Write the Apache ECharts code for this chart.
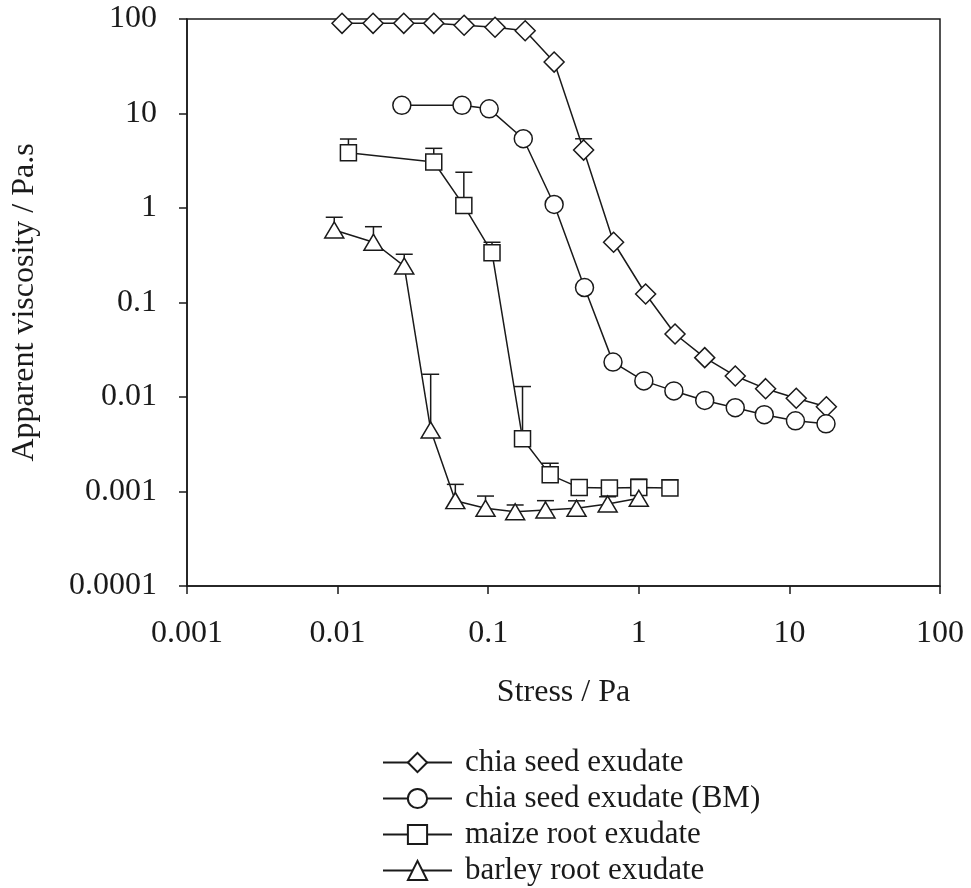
<!DOCTYPE html>
<html>
<head>
<meta charset="utf-8">
<script src="https://cdn.jsdelivr.net/npm/echarts@6/dist/echarts.min.js"></script>
<style>
  html, body { margin: 0; padding: 0; background: #fff; }
  #chart { width: 971px; height: 888px; }
</style>
</head>
<body>
<div id="chart"></div>
<script>
  'use strict'

  // chia seed exudate
  var chiaStress = [0.0107, 0.0172, 0.0275, 0.0435, 0.0692, 0.111, 0.176, 0.274, 0.43, 0.68, 1.11, 1.74, 2.74, 4.37, 6.95, 11.1, 17.6];
  var chiaVisc   = [90, 90, 90, 90, 85.8, 81.7, 75.2, 35, 4.1, 0.434, 0.123, 0.0464, 0.0261, 0.0167, 0.01225, 0.00969, 0.00789];
  var chiaErr    = [null, null, null, null, null, null, null, null, 5.4, null, null, null, null, null, null, null, null];

  // chia seed exudate (BM)
  var bmStress = [0.0267, 0.067, 0.1015, 0.171, 0.274, 0.436, 0.674, 1.08, 1.71, 2.74, 4.37, 6.81, 10.97, 17.5];
  var bmVisc   = [12.2, 12.2, 11.2, 5.41, 1.09, 0.144, 0.0234, 0.0148, 0.0116, 0.0092, 0.0077, 0.0065, 0.0056, 0.0052];

  // maize root exudate
  var maizeStress = [0.0118, 0.0435, 0.0689, 0.106, 0.169, 0.258, 0.402, 0.638, 1.0, 1.61];
  var maizeVisc   = [3.85, 3.07, 1.06, 0.337, 0.00362, 0.0015, 0.0011, 0.00109, 0.0011, 0.00109];
  var maizeErr    = [5.37, 4.28, 2.39, 0.434, 0.0129, 0.00199, null, null, 0.00135, 0.00133];

  // barley root exudate
  var barleyStress = [0.0095, 0.0173, 0.0277, 0.0415, 0.0605, 0.096, 0.151, 0.24, 0.386, 0.621, 1.0];
  var barleyVisc   = [0.585, 0.434, 0.243, 0.00448, 0.0008, 0.000664, 0.00061, 0.000637, 0.000664, 0.000738, 0.000848];
  var barleyErr    = [0.798, 0.634, 0.324, 0.0174, 0.00119, 0.000895, 0.00072, 0.0008, 0.000797, 0.00088, null];

  var seriesNames = ['chia seed exudate', 'chia seed exudate (BM)', 'maize root exudate', 'barley root exudate'];

  var ink = '#1a1a1a';
  var serif = '"Liberation Serif", "Times New Roman", serif';

  function pairs(xs, ys) {
    return xs.map(function (x, i) { return [x, ys[i]]; });
  }
  function errPairs(xs, ys, es) {
    var out = [];
    xs.forEach(function (x, i) {
      if (es[i] != null) out.push([x, ys[i], es[i]]);
    });
    return out;
  }

  // upper half error bar with a cap
  function renderErr(params, api) {
    var p0 = api.coord([api.value(0), api.value(1)]);
    var p1 = api.coord([api.value(0), api.value(2)]);
    var hw = 8.5;
    var st = { stroke: ink, lineWidth: 1.5 };
    return {
      type: 'group',
      children: [
        { type: 'line', shape: { x1: p0[0], y1: p0[1], x2: p1[0], y2: p1[1] }, style: st },
        { type: 'line', shape: { x1: p1[0] - hw, y1: p1[1], x2: p1[0] + hw, y2: p1[1] }, style: st }
      ]
    };
  }

  function lineSeries(name, data, symbol, size) {
    return {
      name: name,
      type: 'line',
      data: data,
      symbol: symbol,
      symbolSize: size,
      showAllSymbol: true,
      z: 3,
      lineStyle: { color: ink, width: 1.5 },
      itemStyle: { color: '#fff', borderColor: ink, borderWidth: 1.5 },
      emphasis: { disabled: true },
      animation: false
    };
  }

  function errSeries(data) {
    return {
      type: 'custom',
      renderItem: renderErr,
      data: data,
      z: 1,
      silent: true,
      animation: false
    };
  }

  var chart = echarts.init(document.getElementById('chart'));

  var option = {
    backgroundColor: '#fff',
    animation: false,
    grid: {
      left: 187,
      right: 31,
      top: 19,
      bottom: 302,
      show: true,
      borderColor: ink,
      borderWidth: 1.5,
      backgroundColor: 'transparent'
    },
    legend: {
      orient: 'vertical',
      left: 382,
      top: 747,
      padding: 0,
      itemWidth: 69,
      itemHeight: 24,
      itemGap: 5,
      data: seriesNames,
      textStyle: { fontFamily: serif, fontSize: 31, color: ink, padding: [0, 0, 0, 8] }
    },
    xAxis: {
      type: 'log',
      logBase: 10,
      min: 0.001,
      max: 100,
      name: 'Stress / Pa',
      nameLocation: 'middle',
      nameGap: 91,
      nameTextStyle: { fontFamily: serif, fontSize: 32, color: ink },
      axisLine: { lineStyle: { color: ink, width: 1.5 } },
      axisTick: { inside: false, length: 8, lineStyle: { color: ink, width: 1.5 } },
      minorTick: { show: false },
      splitLine: { show: false },
      axisLabel: {
        margin: 32,
        fontFamily: serif,
        fontSize: 32,
        color: ink,
        formatter: function (v) { return String(+v.toPrecision(3)); }
      }
    },
    yAxis: {
      type: 'log',
      logBase: 10,
      min: 0.0001,
      max: 100,
      name: 'Apparent viscosity / Pa.s',
      nameLocation: 'middle',
      nameGap: 146,
      nameTextStyle: { fontFamily: serif, fontSize: 32, color: ink },
      axisLine: { lineStyle: { color: ink, width: 1.5 } },
      axisTick: { inside: false, length: 8, lineStyle: { color: ink, width: 1.5 } },
      splitLine: { show: false },
      axisLabel: {
        margin: 30,
        fontFamily: serif,
        fontSize: 32,
        color: ink,
        formatter: function (v) { return String(+v.toPrecision(3)); }
      }
    },
    series: [
      errSeries(errPairs(chiaStress, chiaVisc, chiaErr)),
      errSeries(errPairs(maizeStress, maizeVisc, maizeErr)),
      errSeries(errPairs(barleyStress, barleyVisc, barleyErr)),
      lineSeries(seriesNames[0], pairs(chiaStress, chiaVisc), 'diamond', [20, 20]),
      lineSeries(seriesNames[1], pairs(bmStress, bmVisc), 'circle', 18),
      lineSeries(seriesNames[2], pairs(maizeStress, maizeVisc), 'rect', 16),
      lineSeries(seriesNames[3], pairs(barleyStress, barleyVisc), 'triangle', [19, 16])
    ]
  };

  chart.setOption(option);
</script>
</body>
</html>
